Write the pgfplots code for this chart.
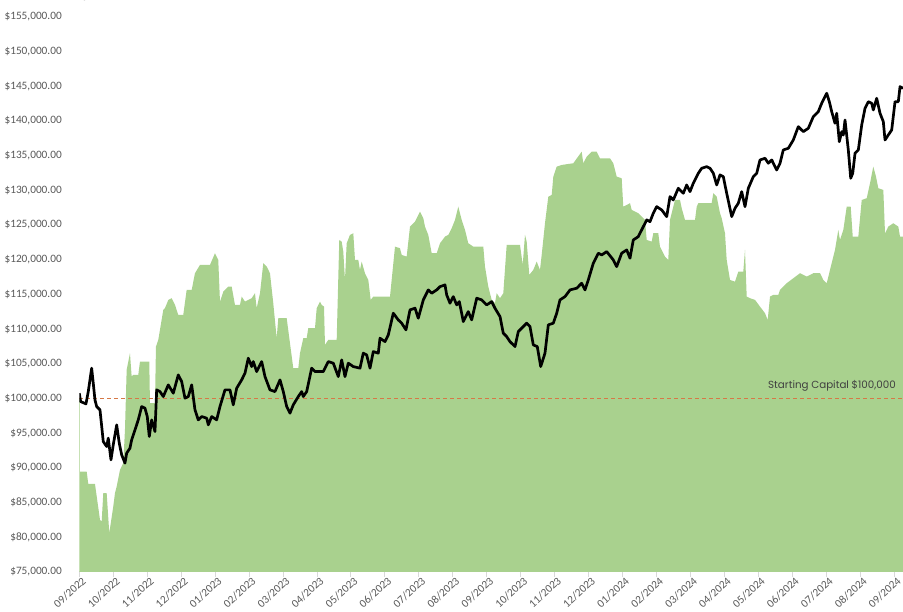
\documentclass[border=0pt]{standalone}
\usepackage{fontspec}
\setmainfont{Carlito}
\newfontfamily\labelfont{Poppins}
\usepackage{pgfplots}
\pgfplotsset{compat=1.18}
\definecolor{areagreen}{RGB}{169,209,142}
\definecolor{tickgray}{RGB}{89,89,89}
\definecolor{axisgray}{RGB}{217,217,217}
\definecolor{capline}{RGB}{214,120,70}
\begin{document}
\begin{tikzpicture}
\begin{axis}[
  scale only axis,
  width=824bp, height=555bp,
  xmin=0, xmax=24.262,
  ymin=75000, ymax=155000,
  axis x line*=bottom, axis y line*=left,
  x axis line style={draw=axisgray, line width=0.8bp},
  y axis line style={draw=none},
  xtick={0,1,...,24},
  xticklabels={09/2022,10/2022,11/2022,12/2022,01/2023,02/2023,03/2023,04/2023,05/2023,06/2023,07/2023,08/2023,09/2023,10/2023,11/2023,12/2023,01/2024,02/2024,03/2024,04/2024,05/2024,06/2024,07/2024,08/2024,09/2024},
  ytick={75000,80000,...,155000},
  yticklabels={{\$75,000.00},{\$80,000.00},{\$85,000.00},{\$90,000.00},{\$95,000.00},{\$100,000.00},{\$105,000.00},{\$110,000.00},{\$115,000.00},{\$120,000.00},{\$125,000.00},{\$130,000.00},{\$135,000.00},{\$140,000.00},{\$145,000.00},{\$150,000.00},{\$155,000.00}},
  tick label style={font=\fontsize{11.3bp}{13bp}\selectfont, text=tickgray},
  xtick style={draw=axisgray, line width=0.8bp},
  ytick style={draw=none},
  tick align=outside,
  major tick length=5bp,
  xticklabel style={rotate=42, anchor=north east, inner sep=1bp, xshift=3bp},
  yticklabel style={xshift=-9bp},
  clip=true,
]
% green area
\addplot[fill=areagreen, draw=none] coordinates {
(0,75000) (0,100000) (0.015,100000) (0.02,89460) (0.218,89460) (0.265,87684) (0.462,87684)
(0.610,82495) (0.660,82250) (0.707,86344) (0.807,86344) (0.884,80578) (1.001,84412)
(1.052,86344) (1.102,87295) (1.199,89702) (1.296,90668) (1.346,95468) (1.396,104116)
(1.493,106523) (1.543,103151) (1.591,103396) (1.738,103396) (1.788,105313) (2.062,105313)
(2.082,99316) (2.230,99316) (2.259,107475) (2.327,108440) (2.474,112765) (2.524,113010)
(2.622,114206) (2.722,114451) (2.819,113485) (2.916,112044) (3.063,112044) (3.163,115647)
(3.311,115647) (3.408,118055) (3.555,119251) (3.850,119251) (3.997,120937) (4.094,119972)
(4.144,113961) (4.242,115402) (4.389,116123) (4.489,116123) (4.586,113485) (4.733,113485)
(4.784,114682) (4.881,113961) (5.078,114451) (5.175,115172) (5.225,113010) (5.323,115172)
(5.420,119496) (5.520,119006) (5.617,118055) (5.714,113730) (5.814,108686) (5.862,111568)
(6.109,111568) (6.206,107965) (6.303,104361) (6.451,104361) (6.501,106523) (6.598,108686)
(6.698,108686) (6.745,110127) (6.943,110127) (6.993,113010) (7.090,113961) (7.140,113485)
(7.208,113240) (7.237,107720) (7.334,108440) (7.582,108440) (7.658,122854) (7.729,122609)
(7.776,121168) (7.826,117089) (7.876,122379) (7.973,123575) (8.071,123820) (8.121,119972)
(8.218,119972) (8.268,118530) (8.318,119727) (8.415,118055) (8.513,117089) (8.583,114206)
(8.660,114682) (9.152,114682) (9.299,121889) (9.446,121658) (9.496,120692) (9.643,120447)
(9.741,124772) (9.889,125492) (10.036,126934) (10.133,125982) (10.183,124772) (10.280,123575)
(10.380,120937) (10.527,120937) (10.625,122379) (10.772,123330) (10.869,123575) (10.969,124541)
(11.066,125737) (11.163,127654) (11.264,125737) (11.361,124296) (11.458,122379) (11.605,121889)
(11.900,121889) (11.950,119006) (12.047,116123) (12.147,114206) (12.244,113730) (12.295,115172)
(12.392,114451) (12.489,115172) (12.589,122134) (12.981,122134) (13.061,119251) (13.128,123575)
(13.178,122609) (13.255,117810) (13.373,118530) (13.473,119727) (13.570,118530) (13.620,120692)
(13.717,125262) (13.815,129096) (13.915,129341) (13.962,131979) (14.062,133420) (14.209,133665)
(14.551,133910) (14.798,135582) (14.845,133910) (14.946,134861) (15.093,135582) (15.240,135582)
(15.337,134631) (15.632,134631) (15.729,133910) (15.829,131979) (15.976,131748) (16.023,127654)
(16.221,128144) (16.271,127179) (16.465,126703) (16.663,125737) (16.713,122854) (16.860,122609)
(16.907,123820) (17.054,123820) (17.104,121889) (17.252,120447) (17.349,119972) (17.399,125737)
(17.496,127654) (17.546,128620) (17.694,128620) (17.744,127424) (17.841,125737) (18.136,125737)
(18.186,127654) (18.233,128144) (18.625,128144) (18.675,129586) (18.775,129096) (18.872,126703)
(18.922,125982) (19.019,123820) (19.069,119972) (19.166,117089) (19.314,116844) (19.411,118285)
(19.558,118285) (19.608,121413) (19.658,114682) (19.756,114451) (19.903,114206) (20.050,113240)
(20.197,112289) (20.277,111323) (20.345,114682) (20.442,114927) (20.589,114927) (20.639,115647)
(20.837,116613) (21.031,117334) (21.228,118055) (21.426,117565) (21.620,118055) (21.817,118055)
(21.915,117089) (22.015,116613) (22.112,118530) (22.259,121413) (22.356,124296) (22.406,122854)
(22.504,124296) (22.604,127654) (22.722,127654) (22.781,123330) (22.946,123330) (23.046,128620)
(23.193,128865) (23.290,131027) (23.387,133420) (23.467,131979) (23.535,130307) (23.682,130061)
(23.732,123820) (23.829,124772) (23.977,125262) (24.124,124772) (24.174,123330) (24.262,123330)
(24.262,75000)
} \closedcycle;
% starting capital line
\addplot[capline, line width=1.2bp, dash pattern=on 4bp off 3bp] coordinates {(0,100000) (24.262,100000)};
% equity curve
\addplot[black, line width=2.7bp, line join=round] coordinates {
(0,100758) (0.041,99547) (0.197,99216) (0.265,100988) (0.365,104361) (0.412,102199) (0.462,99792)
(0.513,98826) (0.610,98351) (0.707,93781) (0.807,93061) (0.854,94271) (0.934,91144) (1.001,93306)
(1.102,96189) (1.178,93551) (1.249,91864) (1.346,90668) (1.396,92109) (1.493,92830) (1.543,94026)
(1.641,95468) (1.738,96909) (1.838,98826) (1.935,98596) (2.003,97385) (2.062,94502) (2.133,96909)
(2.230,95223) (2.280,101233) (2.377,100988) (2.474,100268) (2.622,101954) (2.769,100758)
(2.916,103396) (3.016,102430) (3.113,100037) (3.211,100268) (3.311,101954) (3.408,98351)
(3.505,96909) (3.605,97385) (3.753,97154) (3.800,96189) (3.900,97385) (4.047,96909) (4.144,98826)
(4.292,101233) (4.439,101233) (4.536,99071) (4.636,101478) (4.784,102675) (4.881,103641)
(4.978,105803) (5.078,104592) (5.125,105313) (5.225,103871) (5.373,105313) (5.470,103151)
(5.617,101233) (5.764,100988) (5.912,102675) (6.009,100988) (6.109,98826) (6.206,97875)
(6.303,99071) (6.451,100268) (6.551,100988) (6.598,100268) (6.698,100988) (6.845,104361)
(6.943,103871) (7.187,103871) (7.334,105313) (7.482,105082) (7.629,103151) (7.729,105558)
(7.826,103151) (7.923,105082) (8.071,104592) (8.268,104361) (8.365,106523) (8.465,106278)
(8.563,104361) (8.660,106754) (8.807,106523) (8.857,108686) (9.005,108196) (9.102,109161)
(9.249,112289) (9.396,111323) (9.496,110848) (9.623,109882) (9.741,112765) (9.889,113010)
(9.985,111568) (10.133,114206) (10.280,115647) (10.380,115172) (10.527,115647) (10.625,116123)
(10.772,116368) (10.822,114927) (10.919,113730) (11.016,114682) (11.116,113485) (11.193,113961)
(11.311,111078) (11.458,112520) (11.558,111323) (11.706,114451) (11.853,114206) (12.000,113485)
(12.147,113961) (12.244,113010) (12.392,111799) (12.489,109406) (12.589,108916) (12.686,108196)
(12.834,107475) (12.931,109637) (13.078,110358) (13.178,110848) (13.275,110358) (13.373,107720)
(13.490,107475) (13.591,104592) (13.717,106523) (13.815,110603) (13.962,110848) (14.062,112289)
(14.159,114206) (14.306,114682) (14.454,115647) (14.651,115892) (14.798,116613) (14.896,115647)
(14.993,117089) (15.140,119496) (15.287,120937) (15.387,120692) (15.535,121168) (15.729,119972)
(15.829,119006) (15.976,120937) (16.124,121413) (16.221,120217) (16.318,122854) (16.465,123330)
(16.613,124772) (16.713,125737) (16.810,125492) (16.907,126703) (17.007,127654) (17.155,127179)
(17.302,126213) (17.399,129096) (17.496,128620) (17.644,130307) (17.791,129586) (17.891,130782)
(17.988,129816) (18.085,131027) (18.233,132469) (18.333,133189) (18.480,133420) (18.577,133189)
(18.675,132469) (18.775,130782) (18.872,132224) (18.969,131979) (19.069,129586) (19.217,126213)
(19.314,127424) (19.411,128144) (19.511,129816) (19.608,127654) (19.706,130307) (19.853,131979)
(19.953,132469) (20.050,134386) (20.197,134631) (20.295,133910) (20.395,134386) (20.542,132944)
(20.639,133910) (20.736,135827) (20.884,136072) (21.031,137268) (21.178,139186) (21.326,138465)
(21.473,138955) (21.620,140627) (21.767,141348) (21.867,142558) (22.015,144000) (22.092,142789)
(22.162,141348) (22.259,139676) (22.309,141117) (22.386,137023) (22.457,138465) (22.504,137989)
(22.554,140151) (22.651,135827) (22.722,131748) (22.781,132469) (22.849,135351) (22.946,135827)
(23.046,139431) (23.143,141838) (23.240,142789) (23.341,142558) (23.387,141593) (23.487,143279)
(23.585,141117) (23.682,139906) (23.732,137268) (23.829,137989) (23.929,138710) (24.027,142789)
(24.124,142789) (24.174,144951) (24.262,144720)
};
\node[anchor=south east, inner sep=0pt, text={rgb,255:red,64;green,64;blue,64}, font=\labelfont\fontsize{10.3bp}{12bp}\selectfont] at (axis cs:24.056,100000) [yshift=7bp] {Starting Capital \$100,000};
\end{axis}
\pgfresetboundingbox
\path ([xshift=-79.3bp,yshift=-40bp]current axis.south west) rectangle ([yshift=17bp]current axis.north east);
\end{tikzpicture}
\end{document}
